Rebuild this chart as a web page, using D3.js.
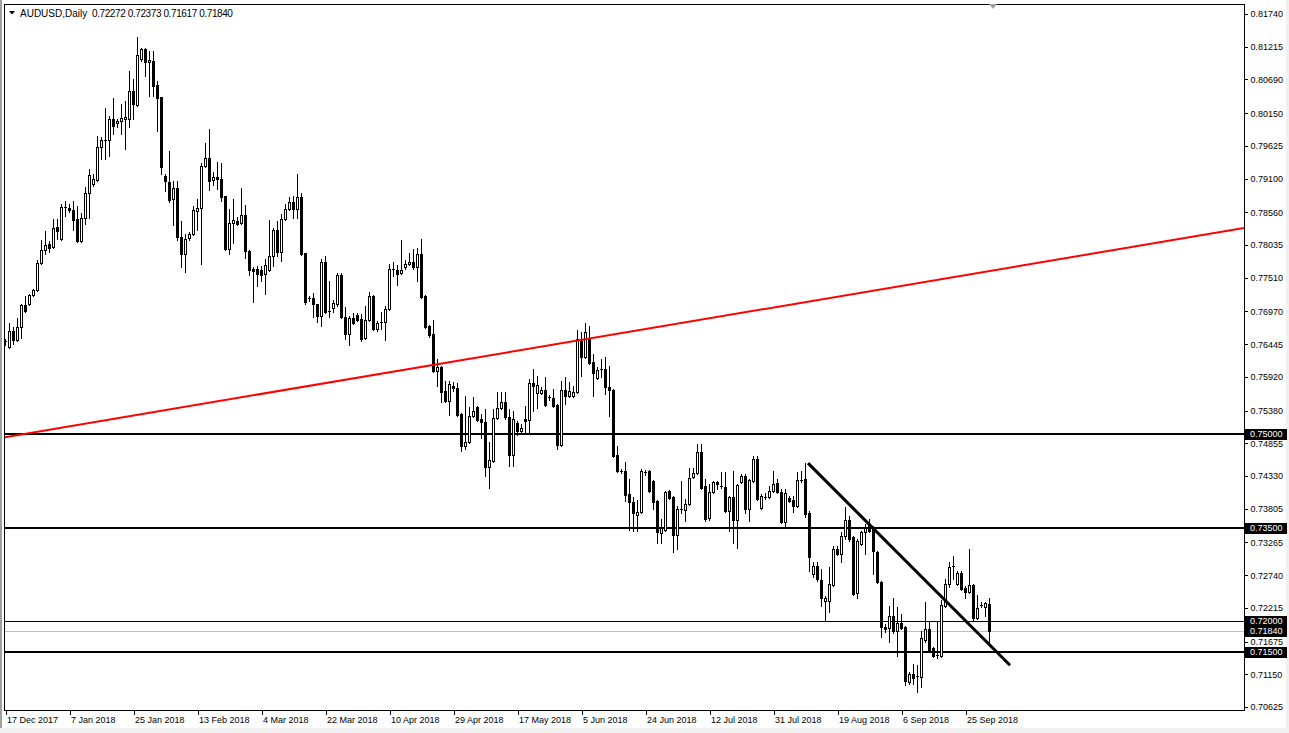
<!DOCTYPE html>
<html><head><meta charset="utf-8">
<script src="https://cdn.jsdelivr.net/npm/d3@7/dist/d3.min.js"></script>
<style>
body{margin:0;background:#f0f0f0;}
svg{display:block;}
text{font-family:"Liberation Sans",Arial,sans-serif;}
</style>
</head><body>
<svg id="chart" width="1289" height="733"></svg>
<script>
// ---------------- DATA ----------------
const symbolLabel = "AUDUSD,Daily";
const lastBar = [0.72272, 0.72373, 0.71617, 0.71840];
const dateLabels = ["17 Dec 2017","7 Jan 2018","25 Jan 2018","13 Feb 2018","4 Mar 2018","22 Mar 2018","10 Apr 2018","29 Apr 2018","17 May 2018","5 Jun 2018","24 Jun 2018","12 Jul 2018","31 Jul 2018","19 Aug 2018","6 Sep 2018","25 Sep 2018"];
const dateTickBars = [0,16,32,48,64,80,96,112,128,144,160,176,192,208,224,240];
const priceTicks = [0.81740,0.81215,0.80690,0.80150,0.79625,0.79100,0.78560,0.78035,0.77510,0.76970,0.76445,0.75920,0.75380,0.74855,0.74330,0.73805,0.73265,0.72740,0.72215,0.71675,0.71150,0.70625];
const thickLevels = [0.75000, 0.73500, 0.71500];
const thinLevels = [0.72000];
const bidPrice = 0.71840;
const markedPrices = [0.75000, 0.73500, 0.72000, 0.71840, 0.71500];
const redTrendBars = [0, 309.75];
const redTrendPrices = [0.74953, 0.78307];
const blackTrendBars = [200.75, 251.25];
const blackTrendPrices = [0.74536, 0.71294];

const opens = [0.76493,0.76397,0.76654,0.76509,0.76718,0.77071,0.77087,0.77232,0.77312,0.77745,0.77953,0.78050,0.78002,0.78322,0.78130,0.78627,0.78627,0.78595,0.78451,0.78098,0.78467,0.78868,0.79013,0.79077,0.79606,0.79703,0.79719,0.80055,0.79991,0.80023,0.80055,0.80055,0.80505,0.80280,0.81018,0.81179,0.80970,0.80986,0.80601,0.80408,0.79141,0.79045,0.78772,0.78948,0.78162,0.77889,0.78146,0.78210,0.78579,0.78627,0.79301,0.79430,0.79077,0.79125,0.79093,0.78820,0.77969,0.78387,0.78419,0.78387,0.78515,0.77937,0.77649,0.77649,0.77633,0.77569,0.77633,0.77857,0.78274,0.77921,0.78451,0.78611,0.78724,0.78611,0.78804,0.77905,0.77183,0.77183,0.77087,0.76895,0.77761,0.76975,0.77023,0.77087,0.77553,0.76878,0.76606,0.76862,0.76911,0.76846,0.76542,0.76830,0.77216,0.76686,0.76782,0.76798,0.77007,0.77649,0.77633,0.77585,0.77681,0.77729,0.77761,0.77681,0.77889,0.77216,0.76734,0.76606,0.76012,0.76076,0.75691,0.75531,0.75771,0.75739,0.75322,0.74808,0.74873,0.75290,0.75434,0.75242,0.75194,0.74471,0.74568,0.75258,0.75418,0.75515,0.75274,0.74664,0.75178,0.75049,0.75242,0.75226,0.75819,0.75659,0.75659,0.75707,0.75595,0.75579,0.75466,0.74825,0.75707,0.75611,0.75611,0.75675,0.76525,0.76236,0.76542,0.76156,0.75899,0.76028,0.76044,0.75755,0.75707,0.74664,0.74407,0.74407,0.74038,0.73910,0.73701,0.73749,0.74391,0.74407,0.74247,0.73926,0.73413,0.73461,0.74086,0.73990,0.73381,0.73797,0.73781,0.73878,0.74311,0.74375,0.74712,0.74166,0.73653,0.74070,0.74231,0.74166,0.74150,0.73765,0.73990,0.73621,0.74231,0.74327,0.73797,0.74247,0.74600,0.73813,0.73990,0.73990,0.74086,0.74215,0.74070,0.73589,0.73974,0.73942,0.73846,0.74247,0.74279,0.73733,0.72755,0.72883,0.72658,0.72321,0.72321,0.72578,0.73156,0.73075,0.73365,0.73621,0.73348,0.72449,0.73236,0.73429,0.73541,0.73477,0.73108,0.72626,0.71904,0.71888,0.72080,0.71840,0.71968,0.71904,0.71022,0.71150,0.71102,0.71102,0.71695,0.71872,0.71567,0.71439,0.71439,0.72241,0.72594,0.72867,0.72594,0.72771,0.72530,0.72466,0.72578,0.72048,0.72257,0.72225,0.72272];
const highs = [0.76525,0.76782,0.76718,0.76863,0.77087,0.77216,0.77248,0.77328,0.77793,0.78114,0.78258,0.78098,0.78451,0.78451,0.78692,0.78740,0.78692,0.78740,0.78659,0.78547,0.78964,0.79253,0.79173,0.79783,0.79767,0.80232,0.80104,0.80392,0.80055,0.80296,0.80344,0.80826,0.80697,0.81371,0.81195,0.81195,0.81147,0.81147,0.80665,0.80408,0.79173,0.79542,0.79061,0.79061,0.78419,0.78210,0.78242,0.78659,0.78772,0.79349,0.79671,0.79895,0.79205,0.79365,0.79349,0.78820,0.78611,0.78772,0.78483,0.78948,0.78675,0.77953,0.77681,0.77697,0.77697,0.77809,0.78435,0.78306,0.78419,0.78531,0.78692,0.78804,0.78820,0.79173,0.78868,0.77905,0.77216,0.77264,0.77087,0.77809,0.77857,0.77456,0.77151,0.77585,0.77585,0.77039,0.76895,0.76943,0.76943,0.76927,0.77055,0.77280,0.77232,0.76814,0.76959,0.77055,0.77729,0.77761,0.77713,0.78114,0.77793,0.77905,0.77969,0.77985,0.78130,0.77232,0.76750,0.76830,0.76204,0.76092,0.75851,0.75851,0.75835,0.75819,0.75338,0.75611,0.75434,0.75595,0.75450,0.75322,0.75402,0.74873,0.75402,0.75675,0.75675,0.75675,0.75402,0.75370,0.75210,0.75162,0.75450,0.75883,0.76044,0.75931,0.75755,0.75915,0.75627,0.75723,0.75482,0.75851,0.75915,0.75835,0.75771,0.76670,0.76638,0.76782,0.76734,0.76285,0.76076,0.76204,0.76236,0.76092,0.75723,0.74808,0.74439,0.74552,0.74279,0.73990,0.73942,0.74439,0.74423,0.74423,0.74263,0.73942,0.73637,0.74086,0.74102,0.74006,0.73846,0.74247,0.73958,0.74455,0.74455,0.74841,0.74841,0.74279,0.74198,0.74247,0.74247,0.74391,0.74391,0.74006,0.74407,0.74198,0.74359,0.74359,0.74279,0.74648,0.74648,0.74038,0.74054,0.74166,0.74407,0.74279,0.74118,0.74118,0.74006,0.74006,0.74391,0.74407,0.74536,0.73765,0.72947,0.72947,0.72835,0.72401,0.72867,0.73204,0.73204,0.73429,0.73830,0.73685,0.73365,0.73316,0.73445,0.73557,0.73637,0.73525,0.73124,0.72642,0.71952,0.72241,0.72369,0.72225,0.72113,0.71920,0.71182,0.71310,0.71294,0.71840,0.72305,0.71984,0.71583,0.71984,0.72337,0.72674,0.72947,0.73043,0.72803,0.72803,0.72562,0.73156,0.72594,0.72417,0.72305,0.72305,0.72373];
const lows = [0.76429,0.76381,0.76445,0.76493,0.76542,0.76959,0.77071,0.77216,0.77296,0.77729,0.77889,0.77921,0.77985,0.78130,0.78114,0.78499,0.78563,0.78274,0.78082,0.78082,0.78371,0.78467,0.78980,0.79061,0.79414,0.79414,0.79462,0.79815,0.79927,0.79815,0.79574,0.79927,0.80055,0.80264,0.80986,0.80746,0.80425,0.80425,0.79863,0.79173,0.78900,0.78724,0.78355,0.78114,0.77681,0.77601,0.78114,0.78194,0.78274,0.77729,0.79285,0.78916,0.78996,0.78932,0.78740,0.77953,0.77889,0.78066,0.78355,0.78371,0.77825,0.77553,0.77119,0.77376,0.77456,0.77248,0.77617,0.77697,0.77857,0.77777,0.78435,0.78595,0.78467,0.78467,0.77873,0.77087,0.77135,0.76878,0.76798,0.76734,0.76943,0.76878,0.76959,0.77055,0.76862,0.76525,0.76429,0.76766,0.76814,0.76493,0.76525,0.76814,0.76670,0.76654,0.76686,0.76509,0.76991,0.77537,0.77392,0.77569,0.77649,0.77713,0.77649,0.77456,0.77183,0.76702,0.76557,0.75996,0.75771,0.75515,0.75515,0.75306,0.75691,0.75290,0.74728,0.74760,0.74857,0.75274,0.75210,0.74937,0.74327,0.74134,0.74552,0.75242,0.75402,0.75242,0.74487,0.74487,0.74985,0.75033,0.75033,0.75033,0.75370,0.75418,0.75643,0.75450,0.75547,0.75434,0.74760,0.74808,0.75482,0.75595,0.75595,0.75659,0.75931,0.76220,0.76124,0.75611,0.75883,0.75915,0.75643,0.75290,0.74632,0.74391,0.74375,0.73926,0.73461,0.73445,0.73445,0.73733,0.74343,0.74070,0.73797,0.73252,0.73252,0.73445,0.73958,0.73108,0.73156,0.73733,0.73605,0.73862,0.74295,0.74359,0.74118,0.73605,0.73621,0.74054,0.74118,0.74134,0.73749,0.73445,0.73252,0.73172,0.74215,0.73733,0.73605,0.74231,0.73942,0.73797,0.73958,0.73974,0.74070,0.74054,0.73573,0.73493,0.73910,0.73749,0.73830,0.74231,0.73669,0.72803,0.72707,0.72642,0.72241,0.72000,0.72145,0.72562,0.73059,0.72947,0.73316,0.73284,0.72417,0.72369,0.73220,0.73075,0.73429,0.72755,0.72610,0.71743,0.71824,0.71663,0.71808,0.71439,0.71872,0.70974,0.70990,0.70990,0.70861,0.70942,0.71663,0.71503,0.71423,0.71407,0.71423,0.72225,0.72546,0.72674,0.72578,0.72498,0.72369,0.72449,0.72000,0.72032,0.72225,0.72080,0.71617];
const closes = [0.76477,0.76654,0.76509,0.76718,0.77071,0.76975,0.77232,0.77312,0.77745,0.77953,0.78034,0.77985,0.78306,0.78258,0.78643,0.78643,0.78595,0.78435,0.78098,0.78467,0.78868,0.79157,0.79093,0.79606,0.79719,0.79719,0.80055,0.79943,0.80023,0.80071,0.80087,0.80505,0.80296,0.81083,0.81179,0.80970,0.81002,0.80585,0.80392,0.79285,0.79061,0.78756,0.78948,0.78162,0.77889,0.78130,0.78210,0.78595,0.78627,0.79301,0.79430,0.79061,0.79125,0.79093,0.78804,0.77969,0.78387,0.78435,0.78371,0.78515,0.77937,0.77633,0.77617,0.77569,0.77553,0.77713,0.77857,0.78274,0.77921,0.78451,0.78611,0.78724,0.78611,0.78804,0.77889,0.77119,0.77167,0.77087,0.76895,0.77761,0.76959,0.76959,0.77103,0.77553,0.76878,0.76606,0.76862,0.76782,0.76830,0.76525,0.76830,0.77216,0.76686,0.76782,0.76798,0.77007,0.77649,0.77633,0.77569,0.77633,0.77729,0.77761,0.77681,0.77889,0.77199,0.76718,0.76590,0.76012,0.76076,0.75675,0.75531,0.75803,0.75739,0.75306,0.74808,0.74873,0.75290,0.75370,0.75226,0.75194,0.74471,0.74584,0.75258,0.75418,0.75515,0.75274,0.74664,0.75242,0.75049,0.75097,0.75210,0.75819,0.75771,0.75787,0.75707,0.75466,0.75579,0.75450,0.74825,0.75707,0.75611,0.75691,0.75675,0.76525,0.76236,0.76638,0.76140,0.75980,0.76028,0.76044,0.75755,0.75707,0.74648,0.74407,0.74400,0.74022,0.73910,0.73733,0.73749,0.74407,0.74385,0.74086,0.73910,0.73429,0.73493,0.74070,0.73974,0.73381,0.73797,0.73790,0.73878,0.74295,0.74375,0.74712,0.74134,0.73637,0.74070,0.74231,0.74198,0.74150,0.73765,0.73990,0.73621,0.74182,0.74327,0.73797,0.74263,0.74600,0.73958,0.74006,0.73985,0.74086,0.74198,0.74070,0.73589,0.74054,0.73926,0.73846,0.74263,0.74263,0.73717,0.73027,0.72883,0.72674,0.72369,0.72369,0.72594,0.73156,0.73075,0.73365,0.73621,0.73316,0.72433,0.73284,0.73429,0.73493,0.73445,0.73124,0.72626,0.71904,0.71872,0.72080,0.71840,0.71968,0.71888,0.71038,0.71150,0.71086,0.71118,0.71727,0.71872,0.71519,0.71439,0.71455,0.72257,0.72594,0.72867,0.72883,0.72771,0.72514,0.72466,0.72578,0.72048,0.72209,0.72250,0.72289,0.71840];

// ---------------- LAYOUT ----------------
const W = 1289, H = 733;
const plot = {left: 4, top: 4, right: 1244, bottom: 710};
const svg = d3.select("#chart");

// background regions
svg.append("rect").attr("x",0).attr("y",0).attr("width",W).attr("height",H).attr("fill","#f0f0f0");
svg.append("rect").attr("x",2).attr("y",0).attr("width",1284).attr("height",728).attr("fill","#ffffff");
svg.append("rect").attr("x",0).attr("y",0).attr("width",2).attr("height",728).attr("fill","#a0a0a0");

const x = d3.scaleLinear().domain([0, 310]).range([5, 1245]);
const y = d3.scaleLinear().domain([0.70625, 0.81740]).range([707, 14]);

svg.append("defs").append("clipPath").attr("id","plotclip")
  .append("rect").attr("x",plot.left+1).attr("y",plot.top+1)
  .attr("width",plot.right-plot.left-1).attr("height",plot.bottom-plot.top-1);

const plotG = svg.append("g").attr("clip-path","url(#plotclip)");

// horizontal levels
const lvlG = plotG.append("g");
thickLevels.forEach(p => {
  lvlG.append("line").attr("x1",plot.left).attr("x2",plot.right)
    .attr("y1",Math.round(y(p))).attr("y2",Math.round(y(p)))
    .attr("stroke","#000").attr("stroke-width",2).attr("shape-rendering","crispEdges");
});
thinLevels.forEach(p => {
  lvlG.append("line").attr("x1",plot.left).attr("x2",plot.right)
    .attr("y1",Math.round(y(p))+0.5).attr("y2",Math.round(y(p))+0.5)
    .attr("stroke","#000").attr("stroke-width",1).attr("shape-rendering","crispEdges");
});
lvlG.append("line").attr("x1",plot.left).attr("x2",plot.right)
  .attr("y1",Math.round(y(bidPrice))+0.5).attr("y2",Math.round(y(bidPrice))+0.5)
  .attr("stroke","#c0c0c0").attr("stroke-width",1).attr("shape-rendering","crispEdges");

// candles
const cg = plotG.append("g").attr("shape-rendering","crispEdges");
opens.forEach((o,i) => {
  const c = closes[i], h = highs[i], l = lows[i];
  const cx = Math.round(x(i));
  const yH = Math.round(y(h)), yL = Math.round(y(l));
  const yO = Math.round(y(o)), yC = Math.round(y(c));
  const top = Math.min(yO,yC), bot = Math.max(yO,yC);
  cg.append("rect").attr("x",cx).attr("y",yH).attr("width",1)
    .attr("height",Math.max(1,yL-yH+1)).attr("fill","#000");
  if (bot - top <= 1) {
    cg.append("rect").attr("x",cx-1).attr("y",top).attr("width",3).attr("height",1).attr("fill","#000");
  } else if (c >= o) {
    cg.append("rect").attr("x",cx-0.5).attr("y",top+0.5).attr("width",2).attr("height",bot-top)
      .attr("fill","#fff").attr("stroke","#000").attr("stroke-width",1);
  } else {
    cg.append("rect").attr("x",cx-1).attr("y",top).attr("width",3).attr("height",bot-top+1).attr("fill","#000");
  }
});

// trend lines
const line = d3.line().x(d => x(d[0])).y(d => y(d[1]));
plotG.append("path").attr("d", line(d3.zip(redTrendBars, redTrendPrices)))
  .attr("stroke","#ff0000").attr("stroke-width",2).attr("fill","none");
plotG.append("path").attr("d", line(d3.zip(blackTrendBars, blackTrendPrices)))
  .attr("stroke","#000").attr("stroke-width",3).attr("fill","none");

// frame
const fr = svg.append("g").attr("shape-rendering","crispEdges").attr("stroke","#000").attr("stroke-width",1);
fr.append("line").attr("x1",plot.left).attr("x2",plot.right+1).attr("y1",plot.top+0.5).attr("y2",plot.top+0.5);
fr.append("line").attr("x1",plot.left+0.5).attr("x2",plot.left+0.5).attr("y1",plot.top).attr("y2",plot.bottom+1);
fr.append("line").attr("x1",plot.right+0.5).attr("x2",plot.right+0.5).attr("y1",plot.top).attr("y2",plot.bottom+1);
fr.append("line").attr("x1",plot.left).attr("x2",plot.right+1).attr("y1",plot.bottom+0.5).attr("y2",plot.bottom+0.5);

// right price axis
const yAxis = d3.axisRight(y).tickValues(priceTicks).tickFormat(d3.format(".5f")).tickSize(3).tickSizeOuter(0).tickPadding(3);
const ya = svg.append("g").attr("transform",`translate(${plot.right+0.5},0)`).call(yAxis);
ya.select(".domain").remove();
ya.selectAll("text").attr("font-size","9px").attr("fill","#000").attr("font-family","Liberation Sans, Arial, sans-serif");
ya.selectAll("line").attr("stroke","#000").attr("shape-rendering","crispEdges");

// marked price boxes
markedPrices.forEach(p => {
  const yy = Math.round(y(p));
  svg.append("rect").attr("x",plot.right+1).attr("y",yy-5).attr("width",42).attr("height",11).attr("fill","#000");
  svg.append("text").attr("x",plot.right+6).attr("y",yy).attr("dy","0.34em")
    .attr("font-size","9px").attr("fill","#fff").text(d3.format(".5f")(p));
});

// bottom date axis
const xAxis = d3.axisBottom(x).tickValues(dateTickBars).tickFormat((d,i) => dateLabels[i]).tickSize(4).tickSizeOuter(0).tickPadding(2);
const xa = svg.append("g").attr("transform",`translate(0.5,${plot.bottom+0.5})`).call(xAxis);
xa.select(".domain").remove();
xa.selectAll("text").attr("text-anchor","start").attr("x",1).attr("font-size","9px").attr("fill","#000").attr("font-family","Liberation Sans, Arial, sans-serif");
xa.selectAll("line").attr("stroke","#000").attr("shape-rendering","crispEdges");

// header
svg.append("path").attr("d","M9,11 L15,11 L12,14.5 Z").attr("fill","#000");
svg.append("text").attr("x",20).attr("y",17).attr("font-size","10px").attr("fill","#000").text(symbolLabel);
svg.append("text").attr("x",92).attr("y",17).attr("font-size","10px").attr("letter-spacing","-0.4px").attr("fill","#000")
  .text(lastBar.map(d3.format(".5f")).join(" "));

// chart shift marker
svg.append("path").attr("d","M989,4 L997,4 L993,9 Z").attr("fill","#a0a0a0");
</script>
</body></html>
